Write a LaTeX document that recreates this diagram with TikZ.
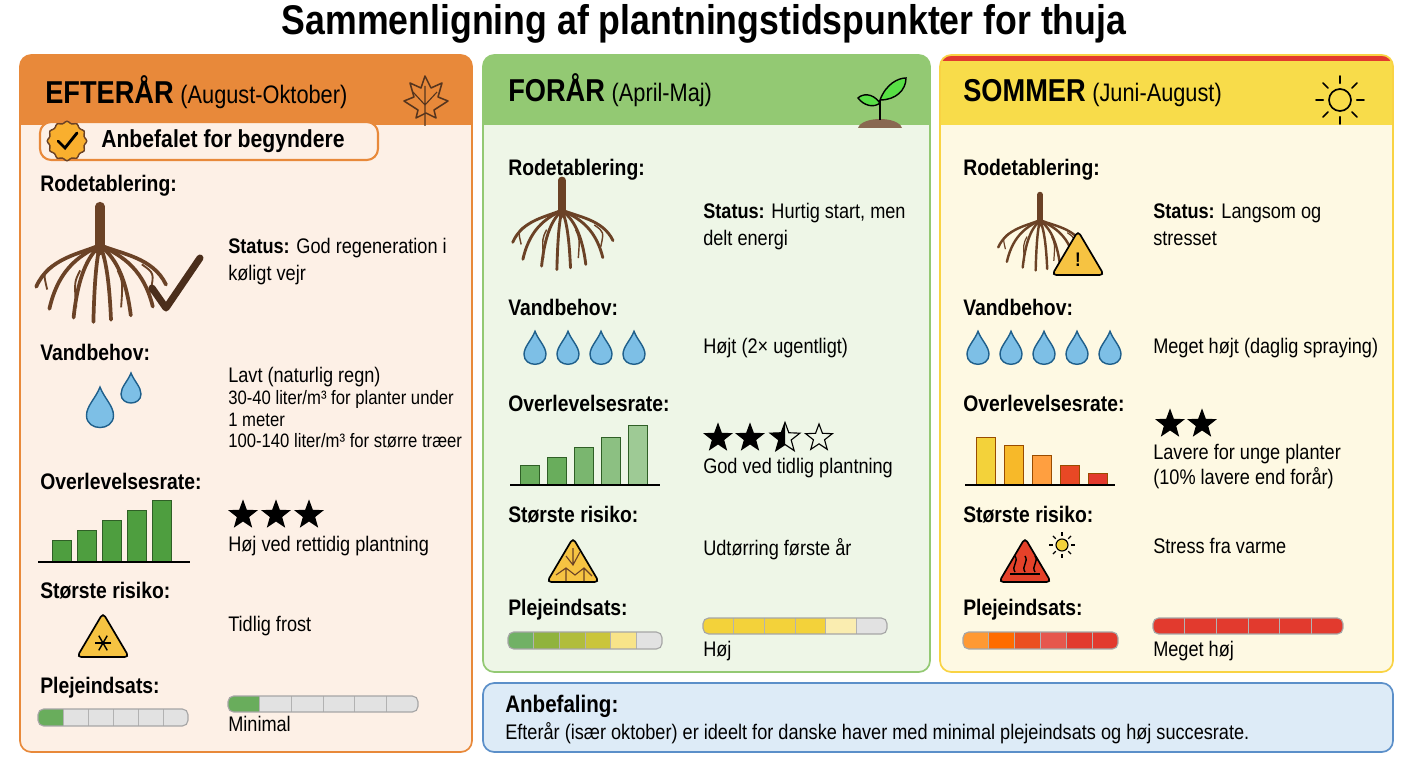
\documentclass[tikz,border=0pt]{standalone}
\usepackage{fontspec}
\setmainfont{Liberation Sans}[FakeStretch=0.86]
\usetikzlibrary{shapes.geometric,calc}
\definecolor{orangeH}{HTML}{E8893A}
\definecolor{orangeB}{HTML}{FDF0E6}
\definecolor{greenH}{HTML}{93C973}
\definecolor{greenB}{HTML}{EEF6E7}
\definecolor{yellowH}{HTML}{F8DC4A}
\definecolor{yellowB}{HTML}{FEF9E3}
\definecolor{redS}{HTML}{E23A2E}
\definecolor{blueB}{HTML}{DDEBF7}
\definecolor{blueL}{HTML}{5B8FC9}
\definecolor{dropF}{HTML}{7DBFE6}
\definecolor{dropL}{HTML}{1F5F8B}
\definecolor{rootbr}{HTML}{6B4226}
\definecolor{barG}{HTML}{4E9E3F}
\definecolor{barbg}{HTML}{E2E2E2}
\definecolor{segY}{HTML}{F3D23A}
\definecolor{warnY}{HTML}{F6C342}
\tikzset{
  lbl/.style={font=\bfseries\fontsize{16}{19}\selectfont, anchor=west, inner sep=0},
  txt/.style={font=\fontsize{15}{19.5}\selectfont, anchor=north west, inner sep=0, align=left},
  hdr/.style={font=\bfseries\fontsize{22.5}{26}\selectfont, anchor=base west, inner sep=0},
  sub/.style={font=\fontsize{18}{21}\selectfont, anchor=base west, inner sep=0},
  starF/.style={star, star points=5, star point ratio=2.4, fill=black, inner sep=0, minimum size=0.78cm},
  drop/.pic={\draw[fill=dropF, draw=dropL, line width=1pt] (0,-17) .. controls (-3,-9) and (-10,-3) .. (-10,4) .. controls (-10,10) and (-5,13) .. (0,13) .. controls (5,13) and (10,10) .. (10,4) .. controls (10,-3) and (3,-9) .. (0,-17) -- cycle;},
}
% segmented bar: x1,y1,x2,y2,colours
\newcommand\segbar[5]{%
  \begin{scope}
    \clip[rounded corners=4pt] (#1,#2) rectangle (#3,#4);
    \fill[barbg] (#1,#2) rectangle (#3,#4);
    \foreach \c [count=\i from 0] in {#5} {\fill[\c] ({#1+\i*(#3-#1)/6},#2) rectangle ({#1+(\i+1)*(#3-#1)/6},#4);}
    \foreach \i in {1,...,5} \draw[gray!60, line width=0.7pt] ({#1+\i*(#3-#1)/6},#2) -- ({#1+\i*(#3-#1)/6},#4);
  \end{scope}
  \draw[gray!70, rounded corners=4pt, line width=0.8pt] (#1,#2) rectangle (#3,#4);}
% roots: x, y (split point), scale
\newcommand\roots[3]{%
  \draw[rootbr, line width=6pt*#3, line cap=round] (#1,{#2-35*#3}) -- (#1,{#2+5*#3});
  \foreach \dx/\dy in {-58/38,-46/58,-24/66,-6/70,10/68,28/64,48/56,60/36}
    \draw[rootbr, line width=2.4pt*#3, line cap=round] (#1,#2) .. controls ({#1+0.3*\dx*#3},{#2+8*#3}) and ({#1+0.8*\dx*#3},{#2+0.3*\dy*#3}) .. ({#1+\dx*#3},{#2+\dy*#3});
  \foreach \dx/\dy in {-40/30,-18/42,16/42,38/32}
    \draw[rootbr, line width=1.2pt*#3] ({#1+\dx*#3},{#2+\dy*#3*0.55}) .. controls ({#1+\dx*#3*1.3},{#2+\dy*#3*0.8}) .. ({#1+\dx*#3*1.2},{#2+\dy*#3*1.35});}
% warning triangle: x, y centre, fill
\newcommand\warn[3]{%
  \draw[rounded corners=3pt, fill=#3, line width=1.2pt] (#1,{#2-24}) -- ({#1+26},{#2+20}) -- ({#1-26},{#2+20}) -- cycle;}
\begin{document}
\begin{tikzpicture}[x=0.025cm, y=-0.025cm]
\useasboundingbox (0,0) rectangle (1408,768);
\fill[white] (0,0) rectangle (1408,768);
\node[font=\bfseries\fontsize{29.5}{33}\selectfont] (title) at (704,24) {Sammenligning af plantningstidspunkter for thuja};

% panels
\fill[orangeB, rounded corners=8pt] (20,55) rectangle (472,752);
\begin{scope}\clip[rounded corners=8pt] (20,55) rectangle (472,752);
  \fill[orangeH] (20,55) rectangle (472,125);\end{scope}
\draw[orangeH, line width=1.2pt, rounded corners=8pt] (20,55) rectangle (472,752);
\fill[greenB, rounded corners=8pt] (483,55) rectangle (930,672);
\begin{scope}\clip[rounded corners=8pt] (483,55) rectangle (930,672);
  \fill[greenH] (483,55) rectangle (930,125);\end{scope}
\draw[greenH, line width=1.2pt, rounded corners=8pt] (483,55) rectangle (930,672);
\fill[yellowB, rounded corners=8pt] (940,55) rectangle (1393,672);
\begin{scope}\clip[rounded corners=8pt] (940,55) rectangle (1393,672);
  \fill[yellowH] (940,55) rectangle (1393,125);\fill[redS] (940,55) rectangle (1393,61);\end{scope}
\draw[yellowH!90!orange, line width=1.2pt, rounded corners=8pt] (940,55) rectangle (1393,672);
\draw[blueL, fill=blueB, line width=1.2pt, rounded corners=8pt] (483,683) rectangle (1393,752);

% ---- EFTERAAR
\node[hdr] (h1) at (45,104) {EFTERÅR};
\node[sub] (h1s) at (h1.base east) {\ (August-Oktober)};
\draw[rootbr!80!black, line width=1.1pt, line join=round] (425,76) -- (431,88) -- (442,83) -- (438,97) -- (448,101) -- (434,110) -- (436,118) -- (426,113) -- (416,118) -- (418,110) -- (404,101) -- (414,97) -- (410,83) -- (421,88) -- cycle;
\draw[rootbr!80!black, line width=0.8pt] (425,126) -- (425,86) (425,105) -- (437,92) (425,105) -- (413,92);
\draw[orangeH, fill=orangeB, line width=1.5pt, rounded corners=8pt] (40,122) rectangle (378,160);
\node[star, star points=12, star point ratio=1.25, fill=warnY!70!orange, draw=rootbr, line width=1pt, minimum size=1.05cm, inner sep=0, rounded corners=2pt] (badge) at (67,141) {};
\draw[line width=2pt, line cap=round] (58,141) -- (65,148) -- (77,133);
\node[lbl, font=\bfseries\fontsize{17.5}{20}\selectfont] (rec) at (101,141) {Anbefalet for begyndere};
\node[lbl] (r1) at (40,186) {Rodetablering:};
\roots{100}{245}{1.1}
\draw[rootbr!70!black, line width=5pt, line cap=round, line join=round] (152,288) -- (166,308) -- (200,258);
\node[txt] (s1) at (228,238) {\textbf{Status:} God regeneration i\\køligt vejr};
\node[lbl] (v1) at (40,352) {Vandbehov:};
\pic[scale=1.35] at (100,410) {drop};
\pic at (131,390) {drop};
\node[txt] (w1) at (228,367) {Lavt (naturlig regn)\\[-4pt]\fontsize{13.8}{16}\selectfont 30-40 liter/m³ for planter under\\[-4pt]\fontsize{13.8}{16}\selectfont 1 meter\\[-4pt]\fontsize{13.8}{16}\selectfont 100-140 liter/m³ for større træer};
\node[lbl] (o1) at (40,481) {Overlevelsesrate:};
\foreach \h [count=\i] in {22,32,42,52,62}
  \draw[barG!60!black, fill=barG, line width=0.6pt] ({52+(\i-1)*25},562) rectangle ++(19,-\h);
\draw[line width=1pt] (38,562) -- (190,562);
\foreach \x in {243,276,309} \node[starF] (st) at (\x,515) {};
\node[txt] (q1) at (228,536) {Høj ved rettidig plantning};
\node[lbl] (k1) at (40,591) {Største risiko:};
\warn{103}{637}{warnY}
\foreach \a in {0,60,120} \draw[line width=1pt] ($(103,643)+(\a:6pt)$) -- ($(103,643)+(\a+180:6pt)$);
\node[txt] (f1) at (228,616) {Tidlig frost};
\node[lbl] (p1) at (40,688) {Plejeindsats:};
\segbar{38}{709}{188}{726}{barG!85,barbg,barbg,barbg,barbg,barbg}
\segbar{228}{696}{418}{712}{barG!85,barbg,barbg,barbg,barbg,barbg}
\node[txt] (m1) at (228,716) {Minimal};

% ---- FORAAR
\node[hdr] (h2) at (508,102) {FORÅR};
\node[sub] (h2s) at (h2.base east) {\ (April-Maj)};
\fill[rootbr!80] (858,128) .. controls (862,116) and (898,116) .. (902,128) -- cycle;
\draw[black, line width=1.2pt] (880,120) -- (880,100);
\draw[black, fill=greenH!60!green, line width=1pt] (880,103) .. controls (872,92) and (862,94) .. (858,98) .. controls (864,106) and (874,108) .. (880,103);
\draw[black, fill=greenH!60!green, line width=1pt] (880,100) .. controls (886,84) and (898,78) .. (906,78) .. controls (906,90) and (896,100) .. (880,100);
\node[lbl] (r2) at (508,170) {Rodetablering:};
\roots{562}{210}{0.85}
\node[txt] (s2) at (703,203) {\textbf{Status:} Hurtig start, men\\delt energi};
\node[lbl] (v2) at (508,307) {Vandbehov:};
\foreach \x in {535,568,601,634} \pic[scale=1.1] at (\x,350) {drop};
\node[txt] (w2) at (703,338) {Højt (2× ugentligt)};
\node[lbl] (o2) at (508,403) {Overlevelsesrate:};
\foreach \h/\c [count=\i] in {20/barG!85,28/barG!85,38/barG!75,48/barG!65,60/barG!55}
  \draw[barG!60!black, fill=\c, line width=0.6pt] ({520+(\i-1)*27},485) rectangle ++(19,-\h);
\draw[line width=1pt] (510,485) -- (660,485);
\foreach \x in {718,750} \node[starF] (st) at (\x,438) {};
\begin{scope}\clip (770,420) rectangle (785,456);\node[starF] (sth) at (785,438) {};\end{scope}
\node[starF, fill=none, draw=black, line width=0.8pt] (sth2) at (785,438) {};
\node[starF, fill=none, draw=black, line width=0.8pt, minimum size=0.7cm] (ste) at (819,438) {};
\node[txt] (q2) at (703,458) {God ved tidlig plantning};
\node[lbl] (k2) at (508,515) {Største risiko:};
\warn{573}{562}{warnY}
\draw[rootbr, line width=0.8pt] (573,548) -- (573,565) (566,556) -- (573,565) -- (580,552) (556,575) -- (566,568) -- (575,575) -- (584,568) -- (592,576) (566,568) -- (566,581) (584,568) -- (584,581);
\node[txt] (f2) at (703,538) {Udtørring første år};
\node[lbl] (p2) at (508,610) {Plejeindsats:};
\segbar{508}{632}{662}{649}{barG!80,barG!60!segY,barG!40!segY,barG!25!segY,segY!60,barbg}
\segbar{703}{618}{887}{634}{segY,segY,segY,segY,segY!40,barbg}
\node[txt] (m2) at (703,641) {Høj};

% ---- SOMMER
\node[hdr] (h3) at (963,102) {SOMMER};
\node[sub] (h3s) at (h3.base east) {\ (Juni-August)};
\draw[black, line width=1.2pt] (1340,100) circle (11);
\foreach \a in {0,45,...,315} \draw[black, line width=1.2pt, line cap=round] ($(1340,100)+(\a:0.42cm)$) -- ($(1340,100)+(\a:0.6cm)$);
\node[lbl] (r3) at (963,170) {Rodetablering:};
\roots{1040}{220}{0.72}
\warn{1078}{255}{warnY}
\node[font=\bfseries\fontsize{14}{14}\selectfont] (ex) at (1078,260) {!};
\node[txt] (s3) at (1153,203) {\textbf{Status:} Langsom og\\stresset};
\node[lbl] (v3) at (963,307) {Vandbehov:};
\foreach \x in {978,1011,1044,1077,1110} \pic[scale=1.1] at (\x,350) {drop};
\node[txt] (w3) at (1153,338) {Meget højt (daglig spraying)};
\node[lbl] (o3) at (963,403) {Overlevelsesrate:};
\foreach \h/\c [count=\i] in {48/segY,40/segY!70!orange,30/orange!75,20/redS!80!orange,12/redS}
  \draw[orange!60!black, fill=\c, line width=0.6pt] ({976+(\i-1)*28},485) rectangle ++(19,-\h);
\draw[line width=1pt] (965,485) -- (1115,485);
\foreach \x in {1170,1202} \node[starF] (st) at (\x,424) {};
\node[txt] (q3) at (1153,444) {Lavere for unge planter\\[-2pt](10\% lavere end forår)};
\node[lbl] (k3) at (963,515) {Største risiko:};
\warn{1025}{562}{redS!90!orange}
\foreach \x in {1015,1025,1035} \draw[black, line width=1pt] (\x,572) .. controls ({\x-4},566) and ({\x+4},562) .. (\x,556);
\draw[black, line width=0.8pt] (1010,574) -- (1040,574);
\draw[black, fill=segY, line width=0.8pt] (1062,545) circle (6);
\foreach \a in {0,45,...,315} \draw[black, line width=0.8pt] ($(1062,545)+(\a:0.22cm)$) -- ($(1062,545)+(\a:0.32cm)$);
\node[txt] (f3) at (1153,538) {Stress fra varme};
\node[lbl] (p3) at (963,610) {Plejeindsats:};
\segbar{963}{632}{1118}{649}{orange!80,orange!85!red,redS!70!orange,redS!85,redS,redS}
\segbar{1153}{618}{1343}{634}{redS,redS,redS,redS,redS,redS}
\node[txt] (m3) at (1153,641) {Meget høj};

% ---- Anbefaling
\node[lbl, font=\bfseries\fontsize{17}{20}\selectfont] (anb) at (505,706) {Anbefaling:};
\node[txt, anchor=west] (anbt) at (505,733) {Efterår (især oktober) er ideelt for danske haver med minimal plejeindsats og høj succesrate.};
\end{tikzpicture}
\end{document}
